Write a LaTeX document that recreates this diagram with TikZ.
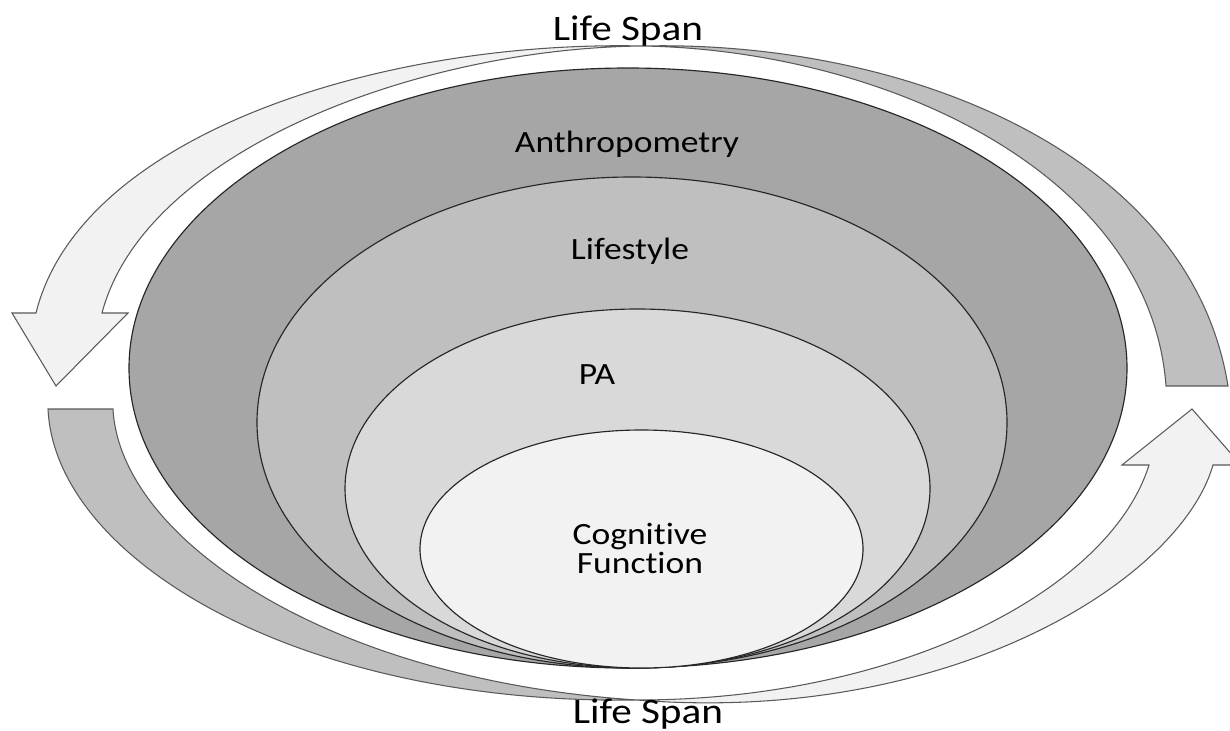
\documentclass[tikz,border=0pt]{standalone}
\usepackage{fontspec}
\setmainfont{Carlito}[FakeStretch=1.15, Ligatures=NoCommon]
\usepackage{xcolor}
\usepackage{tikz}
\definecolor{layerA}{HTML}{A6A6A6}
\definecolor{layerB}{HTML}{BFBFBF}
\definecolor{layerC}{HTML}{D9D9D9}
\definecolor{layerD}{HTML}{F2F2F2}

\begin{document}
\begin{tikzpicture}[
    x=0.02cm, y=-0.02cm,
    layer/.style={
        draw=black!85,
        line width=0.65pt,
        fill=#1
    },
    band/.style={
        draw=black!65,
        line width=0.6pt,
        fill=#1,
        line join=miter
    },
    label/.style={
        font=\fontsize{17.6}{16.5}\selectfont,
        align=center,
        inner sep=0pt
    },
    spanlabel/.style={
        font=\fontsize{20.4}{24}\selectfont,
        anchor=base,
        inner sep=0pt
    }
]
\useasboundingbox (0,0) rectangle (1230,730);
\clip (0,0) rectangle (1230,730);

% Life span arrows
\draw[band=layerD] (643,46) .. controls (380,40) and (80,135) .. (36,313)
    -- (12,313) -- (56,386) -- (128,313) -- (102,313)
    .. controls (145,150) and (420,48) .. (643,46) -- cycle;
\draw[band=layerB] (643,46) .. controls (900,40) and (1190,150) .. (1228,386)
    -- (1166,386) .. controls (1150,170) and (880,50) .. (643,46) -- cycle;
\draw[band=layerB] (48,409) -- (113,409)
    .. controls (120,540) and (330,680) .. (637,700)
    .. controls (300,705) and (55,560) .. (48,409) -- cycle;
\draw[band=layerD] (1149,465) -- (1122,465) -- (1192,409) -- (1241,465) -- (1213,465)
    .. controls (1180,580) and (950,725) .. (637,700)
    .. controls (900,700) and (1110,590) .. (1149,465) -- cycle;

% Nested layers
\draw[layer=layerA] (628,368) ellipse [x radius=499, y radius=300];
\draw[layer=layerB] (632,422.5) ellipse [x radius=375, y radius=245.5];
\draw[layer=layerC] (637.5,488.5) ellipse [x radius=292.5, y radius=179.5];
\draw[layer=layerD] (641.5,549) ellipse [x radius=221.5, y radius=119];

% Labels
\node[label, anchor=base] (anthro) at (627,152) {Anthropometry};
\node[label, anchor=base] (life) at (630,259) {Lifestyle};
\node[label, anchor=base] (pa) at (597,384) {PA};
\node[label] (cog) at (640,548) {Cognitive\\Function};
\node[spanlabel] (spantop) at (628,40) {Life Span};
\node[spanlabel] (spanbot) at (648,723) {Life Span};
\end{tikzpicture}
\end{document}
